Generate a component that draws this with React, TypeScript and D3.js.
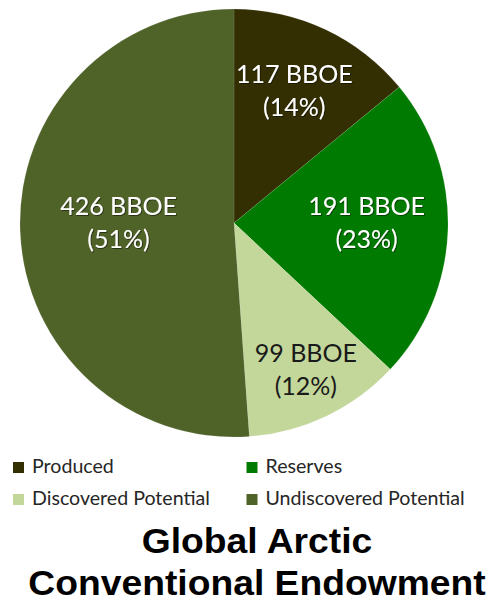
import * as d3 from "d3";

const categories = ["Produced", "Reserves", "Discovered Potential", "Undiscovered Potential"];
const values = [117, 191, 99, 426];
const percents = ["14%", "23%", "12%", "51%"];
const colors = ["#332f03", "#007a00", "#c4d79b", "#4f6228"];
const labelColors = ["#ffffff", "#ffffff", "#1a1a1a", "#ffffff"];
const titleLines = ["Global Arctic", "Conventional Endowment"];

const W = 489;
const H = 602;
const cx = 234;
const cy = 223;
const R = 214;
// where each label sits, as a share of the radius (Excel "best fit" placement)
const labelRadius = [0.66, 0.62, 0.78, 0.54];

export default function App() {
  const pie = d3.pie<number>().sort(null).value((d) => d);
  const arcs = pie(values);
  const arc = d3.arc<d3.PieArcDatum<number>>().innerRadius(0).outerRadius(R);

  const legendX = d3.scaleBand<number>().domain([0, 1]).range([13, 480]);
  const legendY = d3.scaleBand<number>().domain([0, 1]).range([456, 520]);

  return (
    <div style={{ position: "absolute", left: 0, top: 0 }}>
      <svg width={W} height={H} viewBox={`0 0 ${W} ${H}`} style={{ display: "block", background: "#fff" }}>
        <defs>
          <filter id="shadow" x="-10%" y="-10%" width="120%" height="130%">
            <feDropShadow dx={0.8} dy={0.8} stdDeviation={0.4} floodColor="#000" floodOpacity={0.6} />
          </filter>
        </defs>
        <g transform={`translate(${cx},${cy})`}>
          {arcs.map((a, i) => (
            <path key={categories[i]} d={arc(a) ?? ""} fill={colors[i]} stroke="#ffffff" strokeOpacity={0.2} strokeWidth={0.5} />
          ))}
          {arcs.map((a, i) => {
            const rr = R * labelRadius[i];
            const [lx, ly] = d3.arc<d3.PieArcDatum<number>>().innerRadius(rr).outerRadius(rr).centroid(a);
            return (
              <text
                key={"l" + i}
                textAnchor="middle"
                fontFamily="Lato, 'Open Sans', sans-serif"
                fontSize={25}
                fill={labelColors[i]}
                filter={labelColors[i] === "#ffffff" ? "url(#shadow)" : undefined}
              >
                <tspan x={lx} y={ly - 12}>{`${values[i]} BBOE`}</tspan>
                <tspan x={lx} y={ly + 21}>{`(${percents[i]})`}</tspan>
              </text>
            );
          })}
        </g>
        {categories.map((c, i) => {
          const x = legendX(i % 2) ?? 0;
          const y = legendY(Math.floor(i / 2)) ?? 0;
          return (
            <g key={"lg" + c} transform={`translate(${x},${y})`}>
              <rect x={0} y={6} width={11} height={11} fill={colors[i]} />
              <text x={19} y={17} fontFamily="Lato, sans-serif" fontSize={19.6} fill="#262626">
                {c}
              </text>
            </g>
          );
        })}
        {titleLines.map((t, i) => (
          <text
            key={t}
            transform={`translate(257,${553 + i * 42}) scale(1.035,1)`}
            textAnchor="middle"
            fontFamily="'Liberation Sans', Arial, sans-serif"
            fontWeight="bold"
            fontSize={36}
            fill="#000"
          >
            {t}
          </text>
        ))}
      </svg>
    </div>
  );
}
